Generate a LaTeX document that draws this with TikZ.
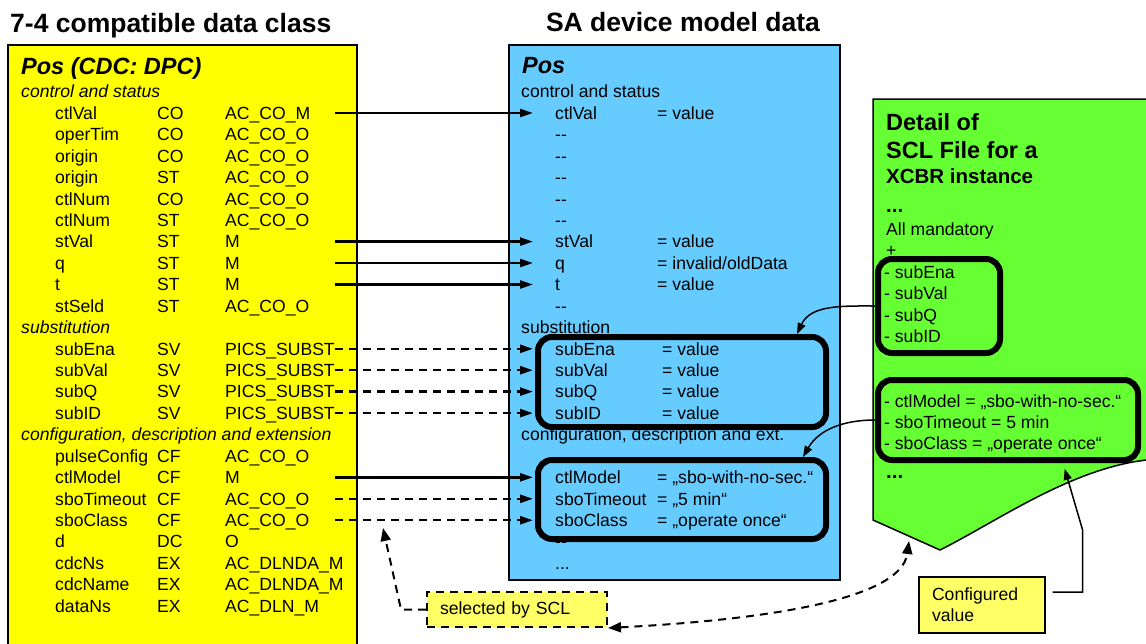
\documentclass[tikz,border=0pt]{standalone}
\usepackage{fontspec}
\setmainfont{Liberation Sans}
\usepackage{tikz}
\usetikzlibrary{arrows.meta}
\usepackage{xcolor}
\definecolor{cdcColor}{HTML}{FFFF00}
\definecolor{modelColor}{HTML}{66CCFF}
\definecolor{sclColor}{HTML}{66FF33}
\definecolor{noteColor}{HTML}{FFFF66}

\begin{document}
\begin{tikzpicture}[
    x=1pt, y=1pt,
    >={Triangle[length=13pt,width=8pt]},
    txt/.style={font=\fontsize{17.6}{21}\selectfont, inner sep=0pt, anchor=west, text height=12.5pt, text depth=0pt},
    sect/.style={txt, font=\fontsize{17.6}{21}\selectfont\itshape},
    attr/.style={txt, text width=110pt},
    bigtitle/.style={font=\fontsize{26.5}{30}\selectfont\bfseries, inner sep=0pt, anchor=base west},
    heading/.style={font=\fontsize{23.5}{28}\selectfont\bfseries\itshape, inner sep=0pt, anchor=base west},
    sclhead/.style={font=\fontsize{23.5}{28}\selectfont\bfseries, inner sep=0pt, anchor=base west},
    panel/.style={draw=black, line width=1.5pt},
    selbox/.style={draw=black, line width=6pt, rounded corners=14pt, inner sep=0pt},
    note/.style={draw=black, fill=noteColor, line width=1.2pt, inner xsep=13pt, inner ysep=0pt, align=left, font=\fontsize{17.6}{21}\selectfont},
    map/.style={->, line width=2.5pt, shorten >=22pt},
    optmap/.style={map, dash pattern=on 8pt off 6pt},
    detail/.style={-{Triangle[length=11pt,width=8pt]}, line width=1.5pt},
    seldash/.style={line width=2pt, dash pattern=on 8pt off 6pt},
  ]
  \useasboundingbox (0,0) rectangle (1146,-643);

  % Panels
  \draw[panel, fill=cdcColor]   (8,-45) rectangle (357,-660);
  \draw[panel, fill=modelColor] (509,-45) rectangle (840,-580);
  \draw[panel, fill=sclColor] (873,-520) -- (873,-99) -- (1160,-99) -- (1160,-459)
    .. controls (1080,-462) and (1000,-520) .. (940,-550) -- cycle;
  \coordinate (gBot) at (909,-541);

  % Titles
  \node[bigtitle] (ttl1) at (10,-32) {7-4 compatible data class};
  \node[bigtitle, anchor=base] (ttl2) at (683,-31) {SA device model data};

  % Compatible data class
  \node[heading] (lpos) at (21,-74) {Pos (CDC: DPC)};
  \node[sect] (lsec0) at (21,-91.6) {control and status};
  \node[txt]  (l1)  at (55,-113)    {ctlVal};
  \node[txt]  (lt1) at (157,-113)   {CO};
  \node[attr] (la1) at (225,-113)   {AC\_CO\_M};
  \node[txt]  (l2)  at (55,-134.5)  {operTim};
  \node[txt]  (lt2) at (157,-134.5) {CO};
  \node[attr] (la2) at (225,-134.5) {AC\_CO\_O};
  \node[txt]  (l3)  at (55,-155.9)  {origin};
  \node[txt]  (lt3) at (157,-155.9) {CO};
  \node[attr] (la3) at (225,-155.9) {AC\_CO\_O};
  \node[txt]  (l4)  at (55,-177.3)  {origin};
  \node[txt]  (lt4) at (157,-177.3) {ST};
  \node[attr] (la4) at (225,-177.3) {AC\_CO\_O};
  \node[txt]  (l5)  at (55,-198.8)  {ctlNum};
  \node[txt]  (lt5) at (157,-198.8) {CO};
  \node[attr] (la5) at (225,-198.8) {AC\_CO\_O};
  \node[txt]  (l6)  at (55,-220.2)  {ctlNum};
  \node[txt]  (lt6) at (157,-220.2) {ST};
  \node[attr] (la6) at (225,-220.2) {AC\_CO\_O};
  \node[txt]  (l7)  at (55,-241.6)  {stVal};
  \node[txt]  (lt7) at (157,-241.6) {ST};
  \node[attr] (la7) at (225,-241.6) {M};
  \node[txt]  (l8)  at (55,-263)    {q};
  \node[txt]  (lt8) at (157,-263)   {ST};
  \node[attr] (la8) at (225,-263)   {M};
  \node[txt]  (l9)  at (55,-284.5)  {t};
  \node[txt]  (lt9) at (157,-284.5) {ST};
  \node[attr] (la9) at (225,-284.5) {M};
  \node[txt]  (l10)  at (55,-305.9)  {stSeld};
  \node[txt]  (lt10) at (157,-305.9) {ST};
  \node[attr] (la10) at (225,-305.9) {AC\_CO\_O};
  \node[sect] (lsec11) at (21,-327.3) {substitution};
  \node[txt]  (l12)  at (55,-348.8)  {subEna};
  \node[txt]  (lt12) at (157,-348.8) {SV};
  \node[attr] (la12) at (225,-348.8) {PICS\_SUBST};
  \node[txt]  (l13)  at (55,-370.2)  {subVal};
  \node[txt]  (lt13) at (157,-370.2) {SV};
  \node[attr] (la13) at (225,-370.2) {PICS\_SUBST};
  \node[txt]  (l14)  at (55,-391.6)  {subQ};
  \node[txt]  (lt14) at (157,-391.6) {SV};
  \node[attr] (la14) at (225,-391.6) {PICS\_SUBST};
  \node[txt]  (l15)  at (55,-413.1)  {subID};
  \node[txt]  (lt15) at (157,-413.1) {SV};
  \node[attr] (la15) at (225,-413.1) {PICS\_SUBST};
  \node[sect] (lsec16) at (21,-434.5) {configuration, description and extension};
  \node[txt]  (l17)  at (55,-455.9)  {pulseConfig};
  \node[txt]  (lt17) at (157,-455.9) {CF};
  \node[attr] (la17) at (225,-455.9) {AC\_CO\_O};
  \node[txt]  (l18)  at (55,-477.3)  {ctlModel};
  \node[txt]  (lt18) at (157,-477.3) {CF};
  \node[attr] (la18) at (225,-477.3) {M};
  \node[txt]  (l19)  at (55,-498.8)  {sboTimeout};
  \node[txt]  (lt19) at (157,-498.8) {CF};
  \node[attr] (la19) at (225,-498.8) {AC\_CO\_O};
  \node[txt]  (l20)  at (55,-520.2)  {sboClass};
  \node[txt]  (lt20) at (157,-520.2) {CF};
  \node[attr] (la20) at (225,-520.2) {AC\_CO\_O};
  \node[txt]  (l21)  at (55,-541.6)  {d};
  \node[txt]  (lt21) at (157,-541.6) {DC};
  \node[attr] (la21) at (225,-541.6) {O};
  \node[txt]  (l22)  at (55,-563.1)  {cdcNs};
  \node[txt]  (lt22) at (157,-563.1) {EX};
  \node[attr] (la22) at (225,-563.1) {AC\_DLNDA\_M};
  \node[txt]  (l23)  at (55,-584.5)  {cdcName};
  \node[txt]  (lt23) at (157,-584.5) {EX};
  \node[attr] (la23) at (225,-584.5) {AC\_DLNDA\_M};
  \node[txt]  (l24)  at (55,-605.9)  {dataNs};
  \node[txt]  (lt24) at (157,-605.9) {EX};
  \node[attr] (la24) at (225,-605.9) {AC\_DLN\_M};

  % Device model data
  \node[heading] (mpos) at (522,-73) {Pos};
  \node[txt] (msec0) at (521,-91.6) {control and status};
  \node[txt] (m1)  at (555,-113)   {ctlVal};
  \node[txt] (mv1) at (657,-113)   {= value};
  \node[txt] (m2)  at (555,-134.5) {-{}-};
  \node[txt] (m3)  at (555,-155.9) {-{}-};
  \node[txt] (m4)  at (555,-177.3) {-{}-};
  \node[txt] (m5)  at (555,-198.8) {-{}-};
  \node[txt] (m6)  at (555,-220.2) {-{}-};
  \node[txt] (m7)  at (555,-241.6) {stVal};
  \node[txt] (mv7) at (657,-241.6) {= value};
  \node[txt] (m8)  at (555,-263)   {q};
  \node[txt] (mv8) at (657,-263)   {= invalid/oldData};
  \node[txt] (m9)  at (555,-284.5) {t};
  \node[txt] (mv9) at (657,-284.5) {= value};
  \node[txt] (m10) at (555,-305.9) {-{}-};
  \node[txt] (msec11) at (521,-327.3) {substitution};
  \node[txt] (m12)  at (555,-348.8) {subEna};
  \node[txt] (mv12) at (662,-348.8) {= value};
  \node[txt] (m13)  at (555,-370.2) {subVal};
  \node[txt] (mv13) at (662,-370.2) {= value};
  \node[txt] (m14)  at (555,-391.6) {subQ};
  \node[txt] (mv14) at (662,-391.6) {= value};
  \node[txt] (m15)  at (555,-413.1) {subID};
  \node[txt] (mv15) at (662,-413.1) {= value};
  \node[txt] (msec16) at (521,-434.5) {configuration, description and ext.};
  \node[txt] (m18)  at (555,-477.3) {ctlModel};
  \node[txt] (mv18) at (657,-477.3) {= „sbo-with-no-sec.“};
  \node[txt] (m19)  at (555,-498.8) {sboTimeout};
  \node[txt] (mv19) at (657,-498.8) {= „5 min“};
  \node[txt] (m20)  at (555,-520.2) {sboClass};
  \node[txt] (mv20) at (657,-520.2) {= „operate once“};
  \node[txt] (m21)  at (555,-541.6) {-{}-};
  \node[txt] (m22)  at (555,-563.1) {...};
  \node[selbox, minimum width=288pt, minimum height=90pt] (b1) at (682,-382) {};
  \node[selbox, minimum width=288pt, minimum height=79pt] (b2) at (682,-499.5) {};

  % SCL file detail
  \node[sclhead] (g1) at (886,-130) {Detail of};
  \node[sclhead] (g2) at (886,-158) {SCL File for a};
  \node[sclhead, font=\fontsize{20.5}{24}\selectfont\bfseries] (g3) at (886,-183) {XCBR instance};
  \node[sclhead, font=\fontsize{20.5}{24}\selectfont\bfseries] (g4) at (886,-212) {...};
  \node[txt] (g5)  at (886,-229) {All mandatory};
  \node[txt] (g6)  at (886,-250) {+};
  \node[txt] (g7)  at (884,-272) {- subEna};
  \node[txt] (g8)  at (884,-293.5) {- subVal};
  \node[txt] (g9)  at (884,-315) {- subQ};
  \node[txt] (g10) at (884,-336) {- subID};
  \node[txt] (g11) at (884,-401) {- ctlModel = „sbo-with-no-sec.“};
  \node[txt] (g12) at (884,-422) {- sboTimeout = 5 min};
  \node[txt] (g13) at (884,-443) {- sboClass = „operate once“};
  \node[sclhead, font=\fontsize{20.5}{24}\selectfont\bfseries] (g14) at (886,-478) {...};
  \node[selbox, minimum width=122pt, minimum height=94pt] (b3) at (939,-306) {};
  \node[selbox, minimum width=260pt, minimum height=80pt] (b4) at (1008,-420) {};

  % Notes
  \node[note, text width=100pt, minimum height=56pt] (cfg) at (982,-605) {Configured\\value};
  \node[note, seldash, text width=154pt, minimum height=35pt] (sel) at (517,-609.5) {selected by SCL};
  \coordinate (selTip) at (383,-528);

  % Mapping
  \draw[map]    (la1.east)  -- (m1.west);
  \draw[map]    (la7.east)  -- (m7.west);
  \draw[map]    (la8.east)  -- (m8.west);
  \draw[map]    (la9.east)  -- (m9.west);
  \draw[optmap] (la12.east) -- (m12.west);
  \draw[optmap] (la13.east) -- (m13.west);
  \draw[optmap] (la14.east) -- (m14.west);
  \draw[optmap] (la15.east) -- (m15.west);
  \draw[map]    (la18.east) -- (m18.west);
  \draw[optmap] (la19.east) -- (m19.west);
  \draw[optmap] (la20.east) -- (m20.west);

  % Detail links
  \draw[detail] (b3.west) to[out=180, in=65] ([xshift=-32pt]b1.north east);
  \draw[detail] (b4.west) to[out=180, in=60] ([xshift=-26pt]b2.north east);
  \draw[detail, shorten <=7pt, shorten >=6pt] ([yshift=13pt]cfg.east) -- ++(37pt,0) -- ++(0,62pt) -- ([xshift=55pt]b4.south);
  \draw[seldash, -{Triangle[length=13pt,width=10pt]}] (sel.west) -- ++(-25pt,0) -- (selTip);
  \draw[seldash, {Triangle[length=13pt,width=10pt]}-{Triangle[length=13pt,width=10pt]}] (sel.south east)
    .. controls +(150pt,8pt) and +(-8pt,-60pt) .. (gBot);

\end{tikzpicture}
\end{document}
